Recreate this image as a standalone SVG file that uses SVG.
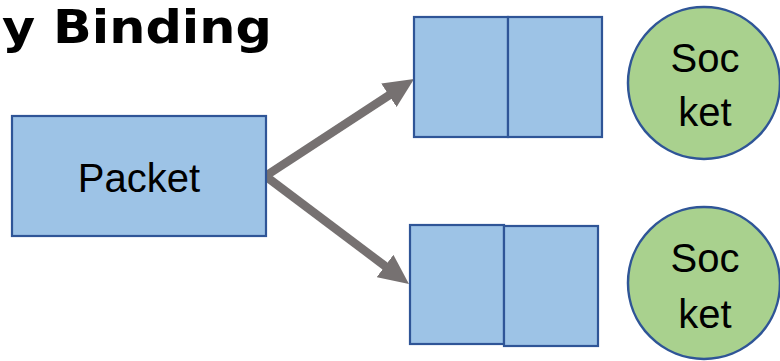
<svg xmlns="http://www.w3.org/2000/svg" width="780" height="361" viewBox="0 0 780 361">
<style>
.box{fill:#9DC3E6;stroke:#2F5597;stroke-width:2.2}
.sock{fill:#A9D18E;stroke:#2F5597;stroke-width:2.5}
.lbl{font-family:"Liberation Sans",Arial,sans-serif;font-size:40px;fill:#000;text-anchor:middle}
.title{font-family:"DejaVu Sans","Liberation Sans",sans-serif;font-weight:bold;font-size:46px;fill:#000}
.conn{stroke:#767171;stroke-width:8.5;fill:none}
</style>
<defs>
<marker id="ah" markerUnits="userSpaceOnUse" viewBox="0 0 30 28" refX="5" refY="14" markerWidth="30" markerHeight="28" orient="auto">
<path d="M0,0 L30,14 L0,28 z" fill="#767171"/>
</marker>
</defs>
<text class="title" x="2" y="43" textLength="270" lengthAdjust="spacingAndGlyphs">y Binding</text>
<g id="connectors">
<path class="conn" d="M264,177 L393.1,92.6" marker-end="url(#ah)"/>
<path class="conn" d="M264,175 L389,269" marker-end="url(#ah)"/>
</g>
<g id="packet">
<rect class="box" x="12" y="116" width="254" height="120"/>
<text class="lbl" x="139" y="192">Packet</text>
</g>
<g id="queue1">
<rect class="box" x="414" y="17" width="94" height="120"/>
<rect class="box" x="508" y="17" width="94" height="120"/>
</g>
<g id="queue2">
<rect class="box" x="410" y="225" width="94" height="119"/>
<rect class="box" x="504" y="226" width="94" height="120"/>
</g>
<g id="socket1">
<circle class="sock" cx="704" cy="83" r="76"/>
<text class="lbl" x="705" y="72">Soc</text>
<text class="lbl" x="705" y="126">ket</text>
</g>
<g id="socket2">
<circle class="sock" cx="704" cy="283" r="76"/>
<text class="lbl" x="705" y="272">Soc</text>
<text class="lbl" x="705" y="328">ket</text>
</g>
</svg>
